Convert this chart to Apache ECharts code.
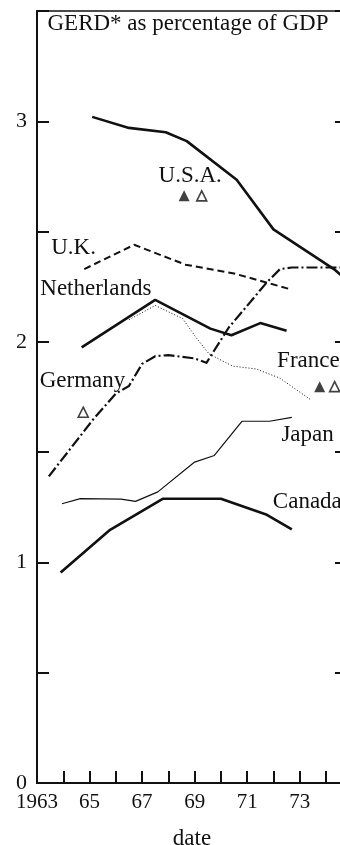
<!DOCTYPE html>
<html>
<head>
<meta charset="utf-8">
<script src="https://cdn.jsdelivr.net/npm/echarts@6/dist/echarts.min.js"></script>
<style>
  html, body { margin: 0; padding: 0; background: #fff; }
  #chart { width: 340px; height: 845px; }
</style>
</head>
<body>
<div id="chart"></div>
<script>
// GERD as a percentage of GDP, by country, [year, percent]
const usa = [[1965.1, 3.02], [1966.5, 2.97], [1967.9, 2.95], [1968.7, 2.91], [1970.6, 2.735], [1972.0, 2.51], [1974.3, 2.33], [1974.8, 2.28]];
const uk = [[1964.8, 2.33], [1966.7, 2.44], [1968.65, 2.35], [1970.5, 2.31], [1972.6, 2.24]];
const netherlands = [[1964.7, 1.975], [1967.5, 2.19], [1969.6, 2.06], [1970.4, 2.03], [1971.5, 2.085], [1972.5, 2.05]];
const germany = [[1963.45, 1.39], [1965.15, 1.65], [1966.0, 1.765], [1966.5, 1.80], [1967.0, 1.90], [1967.5, 1.935], [1968.0, 1.94], [1969.0, 1.925], [1969.45, 1.905], [1970.3, 2.065], [1971.75, 2.27], [1972.25, 2.33], [1972.7, 2.337], [1974.8, 2.337]];
const france = [[1966.5, 2.10], [1967.5, 2.165], [1968.55, 2.105], [1969.05, 2.02], [1969.55, 1.945], [1970.45, 1.89], [1971.35, 1.877], [1972.25, 1.835], [1973.45, 1.735]];
const japan = [[1963.95, 1.266], [1964.65, 1.289], [1966.2, 1.287], [1966.75, 1.277], [1967.6, 1.32], [1969.0, 1.455], [1969.75, 1.485], [1970.8, 1.64], [1971.85, 1.64], [1972.7, 1.658]];
const canada = [[1963.9, 0.954], [1965.75, 1.145], [1967.8, 1.289], [1970.0, 1.289], [1971.75, 1.216], [1972.7, 1.15]];

// Single-year estimates (filled and open triangles)
const filledMarks = [[1968.6, 2.662], [1973.76, 1.797]];
const openMarks = [[1969.27, 2.662], [1974.33, 1.797], [1964.76, 1.681]];

// Axis labels
const xLabelYears = [1963, 1965, 1967, 1969, 1971, 1973];
const yLabelValues = [0, 1, 2, 3];

// Country names
const countryNames = ['U.S.A.', 'U.K.', 'Netherlands', 'Germany', 'France', 'Japan', 'Canada'];

const INK = '#111';
const FONT = '"Liberation Serif", "Times New Roman", serif';

// Where each country name is centred, in [year, percent]
const nameAnchors = {
  'U.S.A.': [1968.83, 2.754],
  'U.K.': [1964.39, 2.425],
  'Netherlands': [1965.24, 2.241],
  'Germany': [1964.73, 1.824],
  'France': [1973.33, 1.913],
  'Japan': [1973.3, 1.58],
  'Canada': [1973.29, 1.273]
};

function lineSeries(name, data, width, type) {
  return {
    name: name,
    type: 'line',
    data: data,
    symbol: 'none',
    smooth: false,
    animation: false,
    lineStyle: { color: INK, width: width, type: type, cap: 'butt', join: 'round' }
  };
}

const chart = echarts.init(document.getElementById('chart'), null, { renderer: 'canvas' });

chart.setOption({
  backgroundColor: '#fff',
  animation: false,
  grid: {
    left: 37, top: 11, width: 310, bottom: 62,
    outerBoundsMode: 'none',
    containLabel: false,
    show: true, borderColor: INK, borderWidth: 1.5, backgroundColor: 'transparent'
  },
  xAxis: {
    type: 'value',
    min: 1963,
    max: 1974.8,
    interval: 1,
    name: 'date',
    nameLocation: 'middle',
    nameGap: 44,
    nameTextStyle: { fontFamily: FONT, fontSize: 23, color: INK },
    axisLine: { show: true, lineStyle: { color: INK, width: 2 } },
    axisTick: { show: true, inside: true, length: 12, lineStyle: { color: INK, width: 2 } },
    axisLabel: {
      margin: 9,
      fontFamily: FONT,
      fontSize: 21,
      color: INK,
      showMaxLabel: false,
      formatter: function (v) {
        if (xLabelYears.indexOf(v) < 0) return '';
        return v === 1963 ? '1963' : String(v % 100);
      }
    },
    splitLine: { show: false }
  },
  yAxis: [{
    type: 'value',
    position: 'left',
    min: 0,
    max: 3.5,
    interval: 0.5,
    axisLine: { show: true, lineStyle: { color: INK, width: 2 } },
    axisTick: { show: true, inside: true, length: 12, lineStyle: { color: INK, width: 2 } },
    axisLabel: {
      margin: 10,
      fontFamily: FONT,
      fontSize: 22,
      color: INK,
      formatter: function (v) { return yLabelValues.indexOf(v) >= 0 ? String(v) : ''; }
    },
    splitLine: { show: false }
  }, {
    type: 'value',
    position: 'right',
    min: 0,
    max: 3.5,
    interval: 0.5,
    axisLine: { show: true, lineStyle: { color: INK, width: 1.5 } },
    axisTick: { show: true, inside: true, length: 12, lineStyle: { color: INK, width: 2 } },
    axisLabel: { show: false },
    splitLine: { show: false }
  }],
  series: [
    lineSeries('U.S.A.', usa, 2.6, 'solid'),
    lineSeries('U.K.', uk, 2, [7, 4]),
    lineSeries('Netherlands', netherlands, 2.6, 'solid'),
    lineSeries('Germany', germany, 2.2, [11, 3, 2, 3]),
    lineSeries('France', france, 1, [1, 2]),
    lineSeries('Japan', japan, 1.2, 'solid'),
    lineSeries('Canada', canada, 2.6, 'solid'),
    {
      name: 'filled',
      type: 'scatter',
      data: filledMarks,
      symbol: 'triangle',
      symbolSize: 11,
      itemStyle: { color: INK },
      animation: false
    },
    {
      name: 'open',
      type: 'scatter',
      data: openMarks,
      symbol: 'triangle',
      symbolSize: 10,
      itemStyle: { color: '#fff', borderColor: INK, borderWidth: 1.6 },
      animation: false
    }
  ]
});

// Title and country names as text elements, placed through the grid's own scales
const texts = [{
  type: 'text',
  x: 188,
  y: 24,
  style: { text: 'GERD* as percentage of GDP', fontFamily: FONT, fontSize: 23, fill: INK, align: 'center', verticalAlign: 'middle' }
}];
countryNames.forEach(function (name) {
  const p = chart.convertToPixel({ gridIndex: 0 }, nameAnchors[name]);
  texts.push({
    type: 'text',
    x: p[0],
    y: p[1],
    silent: true,
    style: { text: name, fontFamily: FONT, fontSize: 23, fill: INK, align: 'center', verticalAlign: 'middle' }
  });
});
chart.setOption({ graphic: texts });
</script>
</body>
</html>
